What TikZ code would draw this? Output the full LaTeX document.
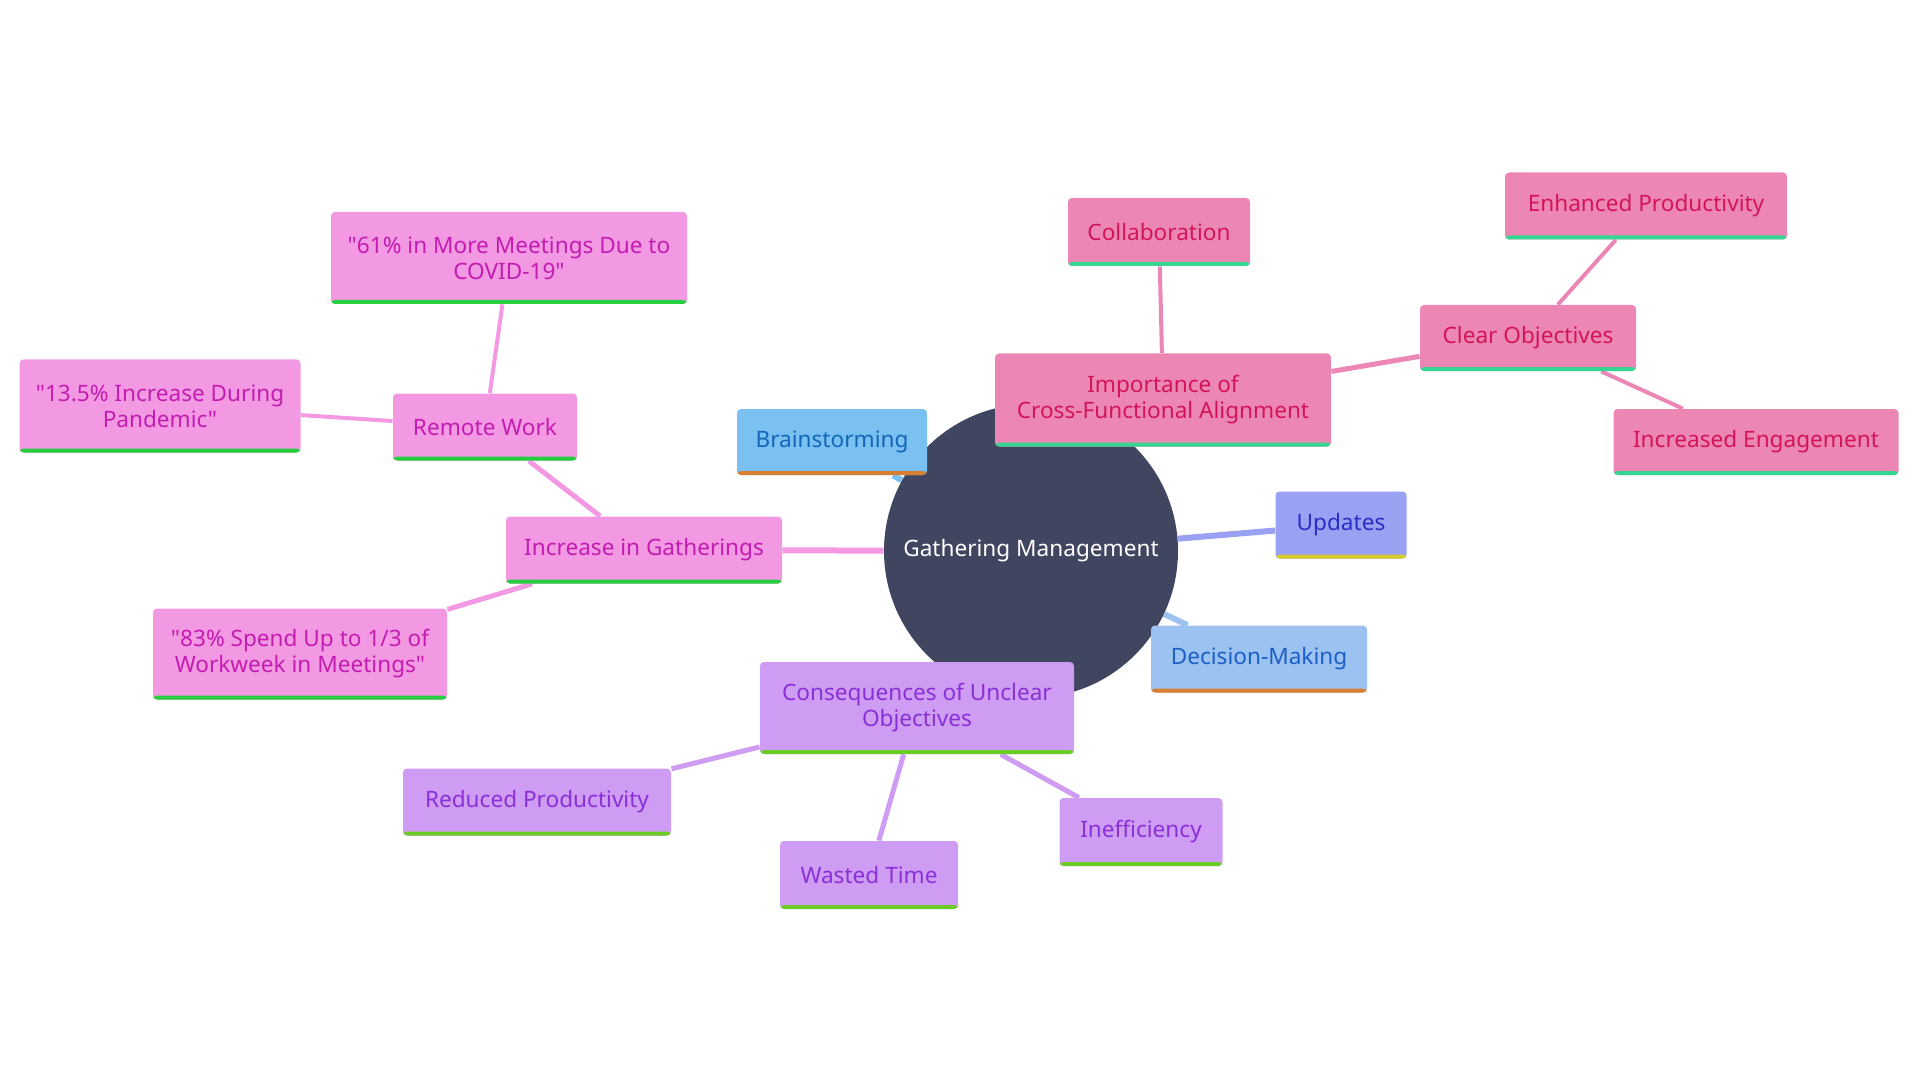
\documentclass[tikz,border=0pt]{standalone}
\usepackage{fontspec}
\setmainfont{Noto Sans}[Ligatures=TeXOff]
\usetikzlibrary{backgrounds}
\definecolor{cRoot}{HTML}{414660}
\definecolor{bluF}{HTML}{7AC0F1}
\definecolor{bluT}{HTML}{1267B8}
\definecolor{decF}{HTML}{9BC2F0}
\definecolor{decT}{HTML}{1C5FC8}
\definecolor{updF}{HTML}{9AA0F2}
\definecolor{updT}{HTML}{2A2FC4}
\definecolor{impF}{HTML}{EC87B5}
\definecolor{impT}{HTML}{D3145C}
\definecolor{incF}{HTML}{F398E3}
\definecolor{incT}{HTML}{C21DB0}
\definecolor{conF}{HTML}{CE9CF2}
\definecolor{conT}{HTML}{8B2FD6}
\definecolor{orB}{HTML}{D98030}
\definecolor{yeB}{HTML}{D6CB2A}
\definecolor{tealB}{HTML}{35D68F}
\definecolor{grB}{HTML}{24CE3E}
\definecolor{limB}{HTML}{6ACC24}
\begin{document}
\begin{tikzpicture}[x=0.5pt,y=-0.5pt,
  font=\fontsize{11.3}{13}\selectfont,
  mm/.style n args={3}{rectangle, rounded corners=2pt, inner sep=0pt, align=center,
    fill=#1, text=#2,
    path picture={\fill[#3] ([yshift=2pt]path picture bounding box.south west) rectangle (path picture bounding box.south east);}},
  sz/.style 2 args={minimum width=#1*0.5pt, minimum height=#2*0.5pt},
  bBlu/.style={mm={bluF}{bluT}{orB}},
  bDec/.style={mm={decF}{decT}{orB}},
  bUpd/.style={mm={updF}{updT}{yeB}},
  bImp/.style={mm={impF}{impT}{tealB}},
  bInc/.style={mm={incF}{incT}{grB}},
  bCon/.style={mm={conF}{conT}{limB}},
  e1/.style={line width=3pt, draw=#1},
  e2/.style={line width=2.5pt, draw=#1},
  e3/.style={line width=2pt, draw=#1},
]
\useasboundingbox (0,0) rectangle (1920,1080);
\node[circle, fill=cRoot, minimum size=294*0.5pt, inner sep=0pt, text=white] (root) at (1031,551) {Gathering Management};

\node[bBlu, sz={190}{66}] (brain) at (832,442) {Brainstorming};
\node[bImp, sz={336}{93}] (imp) at (1163,400) {Importance of\\Cross-Functional Alignment};
\node[bImp, sz={182}{68}] (collab) at (1159,232) {Collaboration};
\node[bImp, sz={216}{66}] (clear) at (1528,338) {Clear Objectives};
\node[bImp, sz={282}{67}] (enh) at (1646,206) {Enhanced Productivity};
\node[bImp, sz={285}{66}] (eng) at (1756,442) {Increased Engagement};
\node[bUpd, sz={131}{67}] (upd) at (1341,525) {Updates};
\node[bDec, sz={216}{67}] (dec) at (1259,659) {Decision-Making};
\node[bInc, sz={276}{67}] (inc) at (644,550) {Increase in Gatherings};
\node[bInc, sz={184}{67}] (remote) at (485,427) {Remote Work};
\node[bInc, sz={356}{92}] (s61) at (509,258) {"61\% in More Meetings Due to\\COVID-19"};
\node[bInc, sz={281}{93}] (s13) at (160,406) {"13.5\% Increase During\\Pandemic"};
\node[bInc, sz={294}{91}] (s83) at (300,654) {"83\% Spend Up to 1/3 of\\Workweek in Meetings"};
\node[bCon, sz={314}{92}] (cons) at (917,708) {Consequences of Unclear\\Objectives};
\node[bCon, sz={268}{67}] (red) at (537,802) {Reduced Productivity};
\node[bCon, sz={178}{68}] (wasted) at (869,875) {Wasted Time};
\node[bCon, sz={163}{68}] (ineff) at (1141,832) {Inefficiency};

\begin{scope}[on background layer]
\draw[e1=bluF] (root) -- (brain);
\draw[e1=impF] (root) -- (imp);
\draw[e1=updF] (root) -- (upd);
\draw[e1=decF] (root) -- (dec);
\draw[e1=incF] (root) -- (inc);
\draw[e1=conF] (root) -- (cons);
\draw[e3=impF] (imp) -- (collab);
\draw[e2=impF] (imp) -- (clear);
\draw[e3=impF] (clear) -- (enh);
\draw[e3=impF] (clear) -- (eng);
\draw[e2=incF] (inc) -- (remote);
\draw[e2=incF] (inc) -- (s83);
\draw[e3=incF] (remote) -- (s61);
\draw[e3=incF] (remote) -- (s13);
\draw[e2=conF] (cons) -- (red);
\draw[e2=conF] (cons) -- (wasted);
\draw[e2=conF] (cons) -- (ineff);
\end{scope}
\end{tikzpicture}
\end{document}
